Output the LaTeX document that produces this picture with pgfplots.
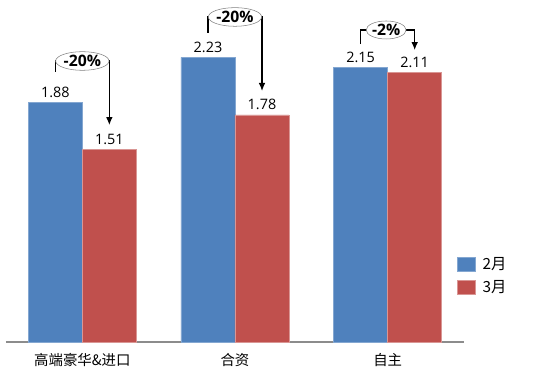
\documentclass[border=0pt]{standalone}
\usepackage{fontspec}
\setmainfont{Open Sans}
\newfontfamily\cjk{Noto Sans CJK SC}
\usepackage{pgfplots}
\pgfplotsset{compat=1.18}
\usetikzlibrary{arrows.meta,shapes.geometric}
\definecolor{bblue}{HTML}{4F81BD}
\definecolor{rred}{HTML}{C0504D}
\begin{document}
\begin{tikzpicture}
\path[use as bounding box] (0,0) rectangle (415.5pt,279pt);
\begin{axis}[
  at={(4.5pt,22.5pt)}, anchor=south west,
  scale only axis, width=343.5pt, height=256.5pt,
  xmin=-0.5, xmax=2.5, ymin=0, ymax=2.68,
  clip=false,
  ybar=0pt, bar width=40.5pt,
  axis x line*=bottom, axis y line=none,
  x axis line style={draw=gray!90, line width=0.8pt, -},
  xtick={0,1,2}, xtick style={draw=none},
  xticklabels={{\cjk 高端豪华\&进口},{\cjk 合资},{\cjk 自主}},
  xticklabel style={font=\fontsize{10.8pt}{12pt}\selectfont, yshift=-1pt},
  ytick=\empty,
  /pgf/number format/assume math mode=true,
  nodes near coords,
  nodes near coords style={font=\fontsize{10.8pt}{12pt}\selectfont, /pgf/number format/.cd, fixed, fixed zerofill, precision=2, assume math mode=true},
  legend style={draw=none, at={(rel axis cs:0.975,0.265)}, anchor=north west, font=\cjk\fontsize{11.5pt}{12pt}\selectfont, row sep=3pt, legend cell align=left,
    nodes={inner xsep=5pt}},
  legend image code/.code={\fill[#1] (0pt,-5.3pt) rectangle (14pt,5.3pt);},
]
\addplot[fill=bblue, draw=bblue!70!white, line width=0.4pt] coordinates {(0,1.88) (1,2.23) (2,2.15)};
\addplot[fill=rred, draw=rred!60!white, line width=0.4pt] coordinates {(0,1.51) (1,1.78) (2,2.11)};
\legend{2月,3月}
% annotations
\draw[line width=0.9pt, -{Latex[length=6pt,width=5pt]}] (axis cs:-0.177,2.116) |- (axis cs:0.177,2.202) -- (axis cs:0.177,1.70);
\node[ellipse, draw=gray, fill=white, minimum width=40pt, minimum height=14pt, inner sep=0pt, font=\bfseries\fontsize{11.8pt}{12pt}\selectfont] at (axis cs:0,2.202) {-20\%};
\draw[line width=0.9pt, -{Latex[length=6pt,width=5pt]}] (axis cs:0.823,2.422) |- (axis cs:1.177,2.547) -- (axis cs:1.177,1.967);
\node[ellipse, draw=gray, fill=white, minimum width=40pt, minimum height=14pt, inner sep=0pt, font=\bfseries\fontsize{11.8pt}{12pt}\selectfont] at (axis cs:1,2.547) {-20\%};
\draw[line width=0.9pt, -{Latex[length=6pt,width=5pt]}] (axis cs:1.823,2.335) |- (axis cs:2.177,2.445) -- (axis cs:2.177,2.288);
\node[ellipse, draw=gray, fill=white, minimum width=28pt, minimum height=13.5pt, inner sep=0pt, font=\bfseries\fontsize{11.8pt}{12pt}\selectfont] at (axis cs:1.99,2.445) {-2\%};
\end{axis}
\end{tikzpicture}
\end{document}
